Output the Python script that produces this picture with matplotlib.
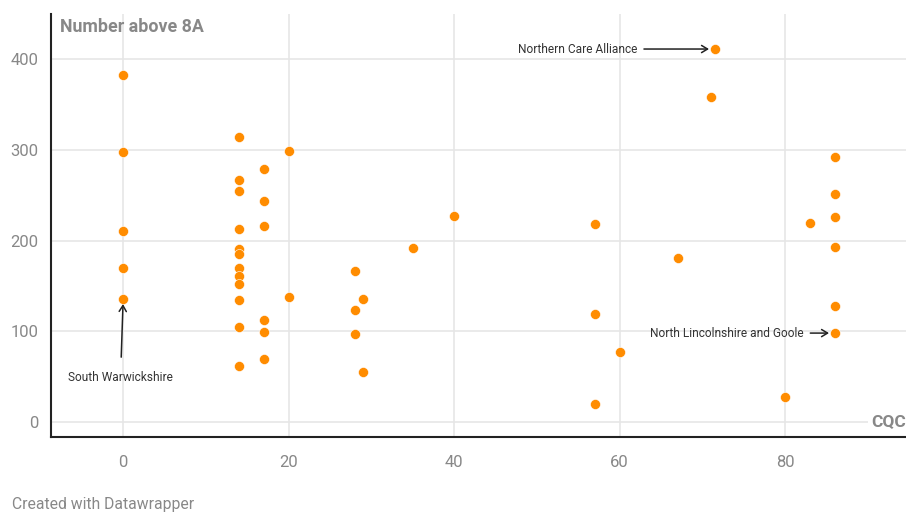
"""Scatter of CQC score vs number of staff above band 8A (Datawrapper style)."""

import matplotlib
matplotlib.use("Agg")
import matplotlib.pyplot as plt

plt.rcParams["font.family"] = ["Roboto", "DejaVu Sans"]

# ---------------------------------------------------------------------------
# Data
# ---------------------------------------------------------------------------
cqc = [0, 0, 0, 0, 0,
       14, 14, 14, 14, 14, 14, 14, 14, 14, 14, 14, 14,
       17, 17, 17, 17, 17, 17,
       20, 20,
       28, 29, 28, 28, 29,
       35, 40,
       57, 57, 57, 60, 67,
       71.5, 71,
       80, 83,
       86, 86, 86, 86, 86, 86]
above_8a = [382, 298, 211, 170, 136,
            314, 267, 255, 213, 191, 185, 170, 161, 152, 135, 105, 62,
            279, 244, 216, 112, 99, 69,
            299, 138,
            166, 136, 123, 97, 55,
            192, 227,
            218, 119, 20, 77, 181,
            411, 358,
            28, 219,
            292, 251, 226, 193, 128, 98]

x_ticks = [0, 20, 40, 60, 80]
y_ticks = [0, 100, 200, 300, 400]

# labelled points: (name, x, y)
callouts = [
    ("Northern Care Alliance", 71.5, 411),
    ("North Lincolnshire and Goole", 86, 98),
    ("South Warwickshire", 0, 136),
]

DOT = "#ff8c00"
GREY = "#888888"
GRID = "#e6e6e6"

fig = plt.figure(figsize=(9.06, 5.12), dpi=100)
ax = fig.add_axes([51 / 906, 75 / 512, 855 / 906, 423 / 512])

ax.scatter(cqc, above_8a, s=52, color=DOT, edgecolor="white",
           linewidth=0.4, zorder=3, clip_on=False)

ax.set_xlim(-8.7, 94.6)
ax.set_ylim(-16.5, 449.6)
ax.set_xticks(x_ticks)
ax.set_yticks(y_ticks)
ax.grid(True, color=GRID, linewidth=1.2, zorder=0)
ax.set_axisbelow(True)
ax.tick_params(length=0, labelsize=12, colors=GREY, pad=9)
ax.tick_params(axis="x", pad=13)

for side in ("top", "right"):
    ax.spines[side].set_visible(False)
for side in ("left", "bottom"):
    ax.spines[side].set_color("#222222")
    ax.spines[side].set_linewidth(1.5)

# axis titles placed inside the plot, Datawrapper-style
ax.text(0.011, 0.99, "Number above 8A", transform=ax.transAxes,
        ha="left", va="top", fontsize=12.8, fontweight="bold", color=GREY)
ax.text(1.0, 0, "CQC", transform=ax.get_yaxis_transform(),
        ha="right", va="center", fontsize=12.5, fontweight="bold", color=GREY,
        bbox=dict(facecolor="white", edgecolor="none", pad=2))

# callouts
arrow = dict(arrowstyle="->,head_length=0.5,head_width=0.3", color="#222222",
             lw=1.1, shrinkA=3, shrinkB=0)
name, px, py = callouts[0]
ax.annotate(name, xy=(px - 0.7, py), xytext=(px - 9.4, py),
            ha="right", va="center", fontsize=8.6, color="#333333",
            arrowprops=arrow)
name, px, py = callouts[1]
ax.annotate(name, xy=(px - 0.7, py), xytext=(px - 3.8, py),
            ha="right", va="center", fontsize=8.6, color="#333333",
            arrowprops=arrow)
name, px, py = callouts[2]
ax.annotate(name, xy=(px, py - 6), xytext=(px - 0.3, py - 87),
            ha="center", va="center", fontsize=8.6, color="#333333",
            arrowprops=dict(arrow, shrinkA=8))

fig.text(12 / 906, 1 - 504 / 512, "Created with Datawrapper",
         ha="left", va="center", fontsize=11.3, color=GREY)

fig.savefig("out.png", dpi=100)
